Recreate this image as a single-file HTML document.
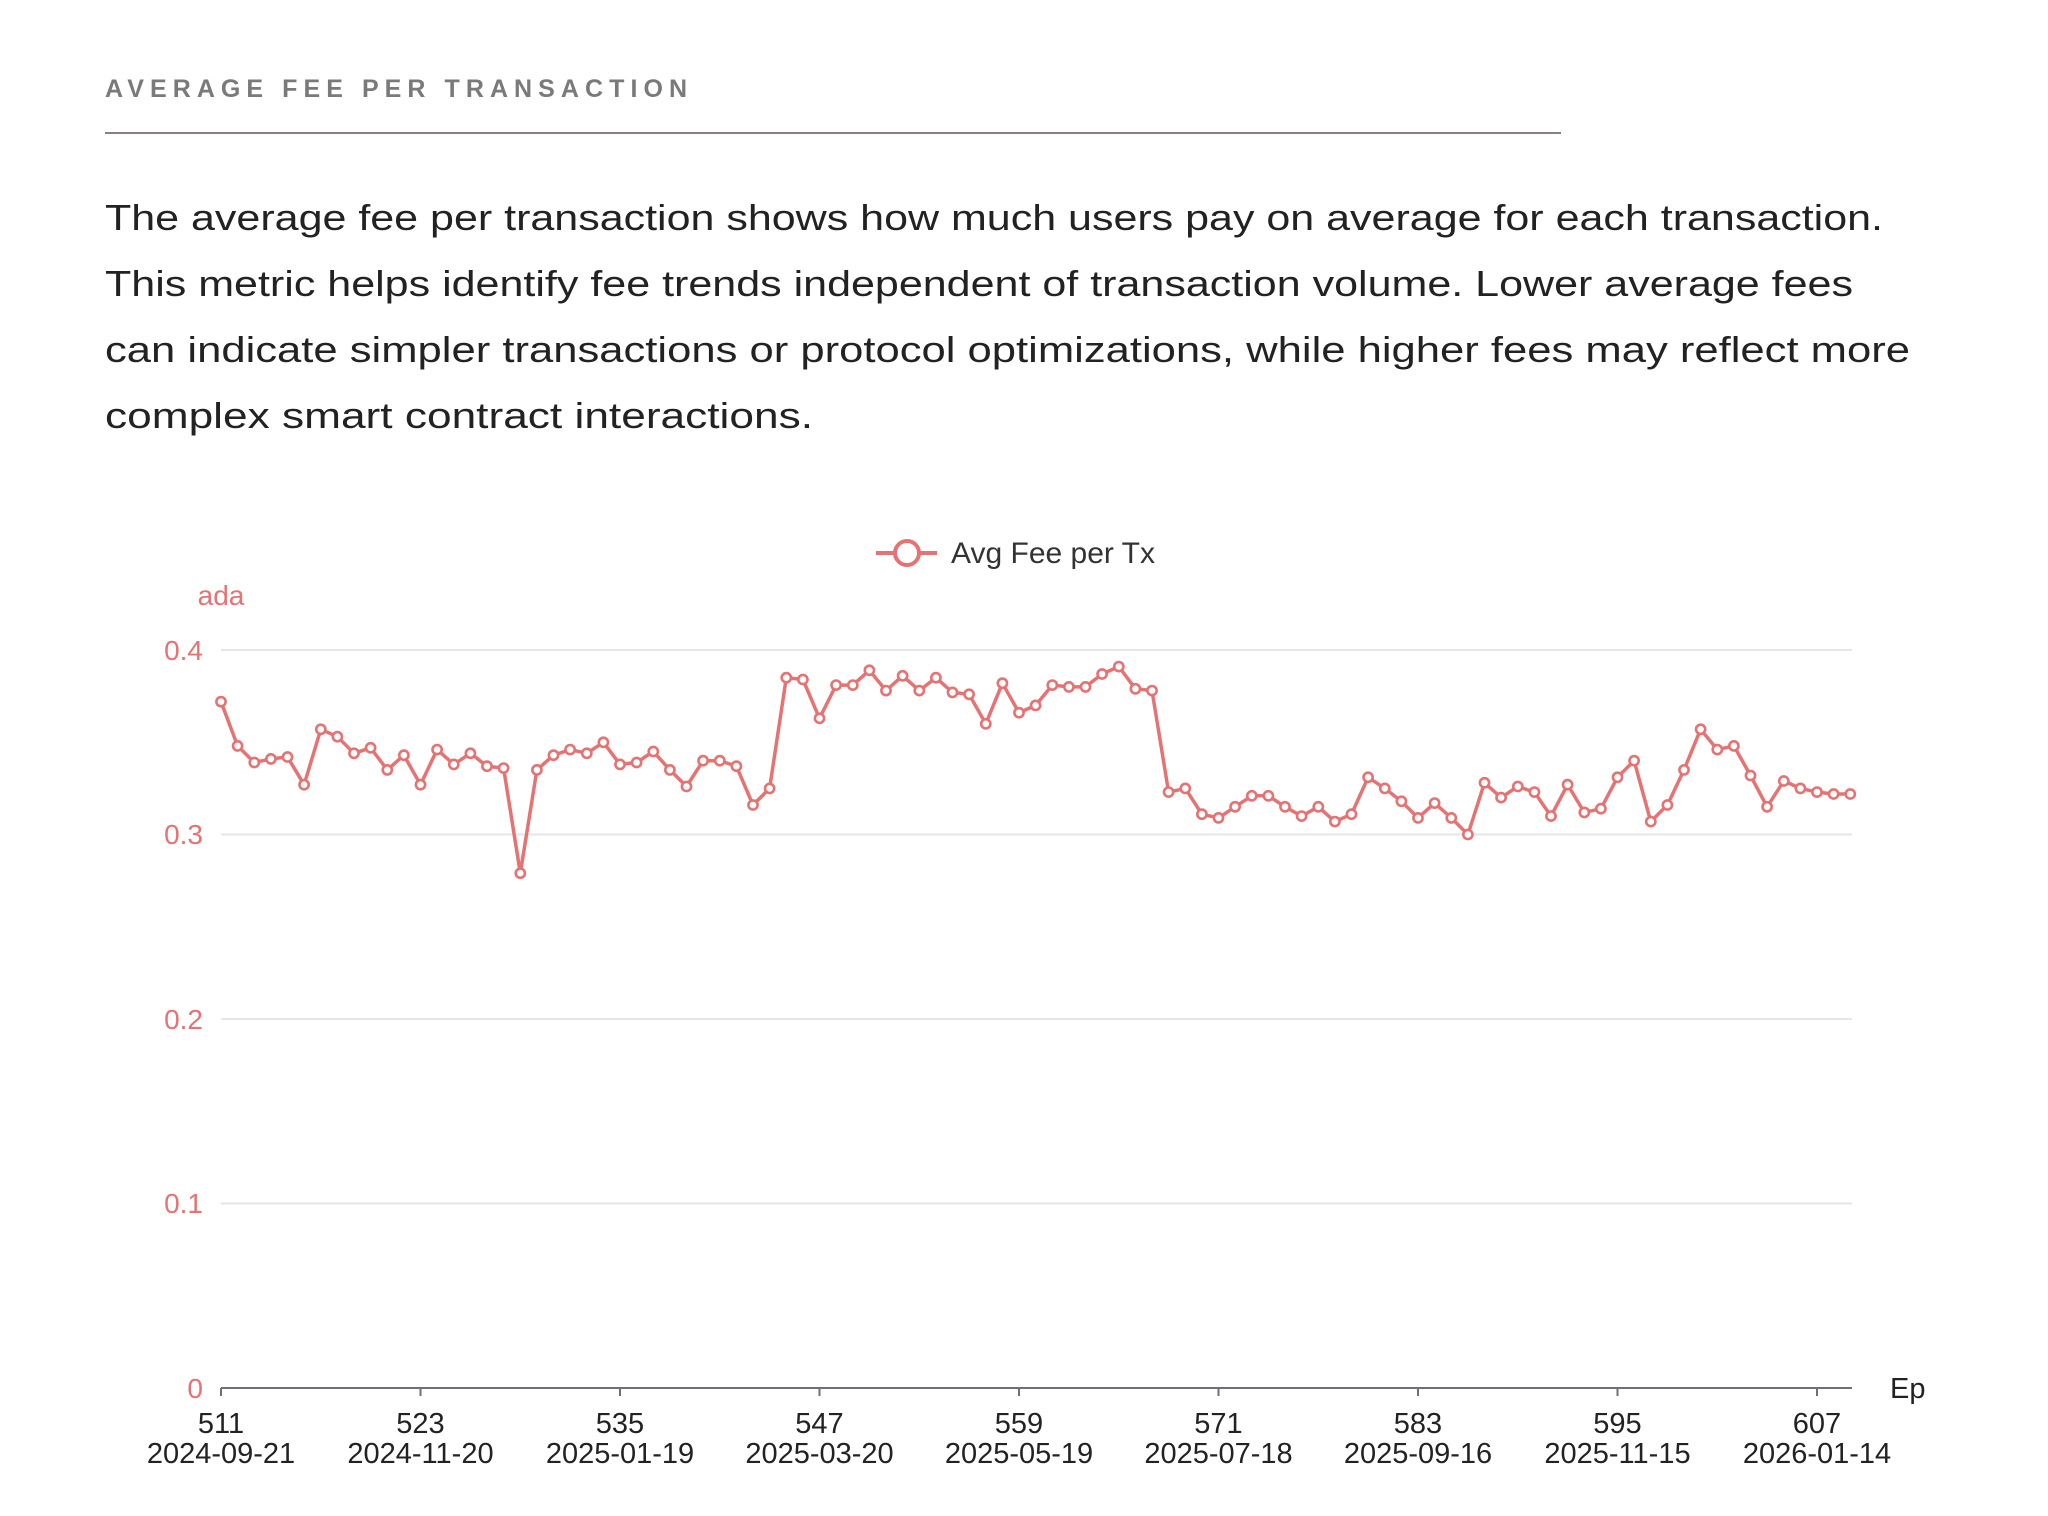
<!DOCTYPE html>
<html><head><meta charset="utf-8"><style>
html,body{margin:0;padding:0;background:#fff;}
svg{display:block;}
</style></head><body>
<svg width="2048" height="1516" viewBox="0 0 2048 1516" xmlns="http://www.w3.org/2000/svg" font-family="Liberation Sans, sans-serif">
<defs>
<marker id="m" markerUnits="userSpaceOnUse" markerWidth="14" markerHeight="14" refX="7" refY="7" viewBox="0 0 14 14">
<circle cx="7" cy="7" r="4.6" fill="#fff" stroke="#e57373" stroke-width="2.6"/>
</marker>
</defs>
<text x="105" y="97" font-size="25" font-weight="bold" fill="#7a7a7a" textLength="582" lengthAdjust="spacing">AVERAGE FEE PER TRANSACTION</text>
<line x1="105" y1="133" x2="1561" y2="133" stroke="#8d7f80" stroke-width="2"/>
<g font-size="36" fill="#222">
<text x="105" y="230" textLength="1778" lengthAdjust="spacingAndGlyphs">The average fee per transaction shows how much users pay on average for each transaction.</text>
<text x="105" y="296" textLength="1748" lengthAdjust="spacingAndGlyphs">This metric helps identify fee trends independent of transaction volume. Lower average fees</text>
<text x="105" y="362" textLength="1805" lengthAdjust="spacingAndGlyphs">can indicate simpler transactions or protocol optimizations, while higher fees may reflect more</text>
<text x="105" y="428" textLength="708" lengthAdjust="spacingAndGlyphs">complex smart contract interactions.</text>
</g>
<g stroke="#e6e6e6" stroke-width="2">
<line x1="221" y1="650" x2="1852" y2="650"/>
<line x1="221" y1="834.5" x2="1852" y2="834.5"/>
<line x1="221" y1="1019" x2="1852" y2="1019"/>
<line x1="221" y1="1203.5" x2="1852" y2="1203.5"/>
</g>
<g font-size="28" fill="#e57373" text-anchor="end">
<text x="203" y="660">0.4</text>
<text x="203" y="844">0.3</text>
<text x="203" y="1029">0.2</text>
<text x="203" y="1213">0.1</text>
<text x="203" y="1398">0</text>
</g>
<text x="221" y="605" font-size="28" fill="#e57373" text-anchor="middle">ada</text>
<line x1="221" y1="1388" x2="1852" y2="1388" stroke="#6e7079" stroke-width="2"/>
<g stroke="#6e7079" stroke-width="2">
<line x1="221" y1="1388" x2="221" y2="1396"/>
<line x1="420.5" y1="1388" x2="420.5" y2="1396"/>
<line x1="620" y1="1388" x2="620" y2="1396"/>
<line x1="819.5" y1="1388" x2="819.5" y2="1396"/>
<line x1="1019" y1="1388" x2="1019" y2="1396"/>
<line x1="1218.5" y1="1388" x2="1218.5" y2="1396"/>
<line x1="1418" y1="1388" x2="1418" y2="1396"/>
<line x1="1617.5" y1="1388" x2="1617.5" y2="1396"/>
<line x1="1817" y1="1388" x2="1817" y2="1396"/>
</g>
<g font-size="29" fill="#222" text-anchor="middle">
<text x="221" y="1433">511</text><text x="221" y="1463">2024-09-21</text>
<text x="420.5" y="1433">523</text><text x="420.5" y="1463">2024-11-20</text>
<text x="620" y="1433">535</text><text x="620" y="1463">2025-01-19</text>
<text x="819.5" y="1433">547</text><text x="819.5" y="1463">2025-03-20</text>
<text x="1019" y="1433">559</text><text x="1019" y="1463">2025-05-19</text>
<text x="1218.5" y="1433">571</text><text x="1218.5" y="1463">2025-07-18</text>
<text x="1418" y="1433">583</text><text x="1418" y="1463">2025-09-16</text>
<text x="1617.5" y="1433">595</text><text x="1617.5" y="1463">2025-11-15</text>
<text x="1817" y="1433">607</text><text x="1817" y="1463">2026-01-14</text>
</g>
<text x="1890" y="1398" font-size="29" fill="#222">Ep</text>
<line x1="876" y1="553" x2="937" y2="553" stroke="#e57373" stroke-width="4"/>
<circle cx="907" cy="553" r="12" fill="#fff" stroke="#e57373" stroke-width="4"/>
<text x="951" y="563" font-size="30" fill="#333">Avg Fee per Tx</text>
<polyline fill="none" stroke="#e57373" stroke-width="3.5" stroke-linejoin="round" marker-start="url(#m)" marker-mid="url(#m)" marker-end="url(#m)" points="221,701.7 237.6,745.9 254.3,762.5 270.9,758.9 287.5,757 304.1,784.7 320.8,729.3 337.4,736.7 354,753.3 370.6,747.8 387.3,769.9 403.9,755.2 420.5,784.7 437.1,749.6 453.8,764.4 470.4,753.3 487,766.2 503.6,768.1 520.3,873.2 536.9,769.9 553.5,755.2 570.1,749.6 586.8,753.3 603.4,742.3 620,764.4 636.6,762.5 653.3,751.5 669.9,769.9 686.5,786.5 703.1,760.7 719.8,760.7 736.4,766.2 753,805 769.6,788.4 786.3,677.7 802.9,679.5 819.5,718.3 836.1,685.1 852.8,685.1 869.4,670.3 886,690.6 902.6,675.8 919.3,690.6 935.9,677.7 952.5,692.4 969.1,694.3 985.8,723.8 1002.4,683.2 1019,712.7 1035.6,705.4 1052.3,685.1 1068.9,686.9 1085.5,686.9 1102.1,674 1118.8,666.6 1135.4,688.8 1152,690.6 1168.6,792.1 1185.3,788.4 1201.9,814.2 1218.5,817.9 1235.1,806.8 1251.8,795.8 1268.4,795.8 1285,806.8 1301.6,816.1 1318.3,806.8 1334.9,821.6 1351.5,814.2 1368.1,777.3 1384.8,788.4 1401.4,801.3 1418,817.9 1434.6,803.1 1451.3,817.9 1467.9,834.5 1484.5,782.8 1501.1,797.6 1517.8,786.5 1534.4,792.1 1551,816.1 1567.6,784.7 1584.3,812.4 1600.9,808.7 1617.5,777.3 1634.1,760.7 1650.8,821.6 1667.4,805 1684,769.9 1700.6,729.3 1717.3,749.6 1733.9,745.9 1750.5,775.5 1767.1,806.8 1783.8,781 1800.4,788.4 1817,792.1 1833.6,794 1850.3,794"/>
</svg>
</body></html>
